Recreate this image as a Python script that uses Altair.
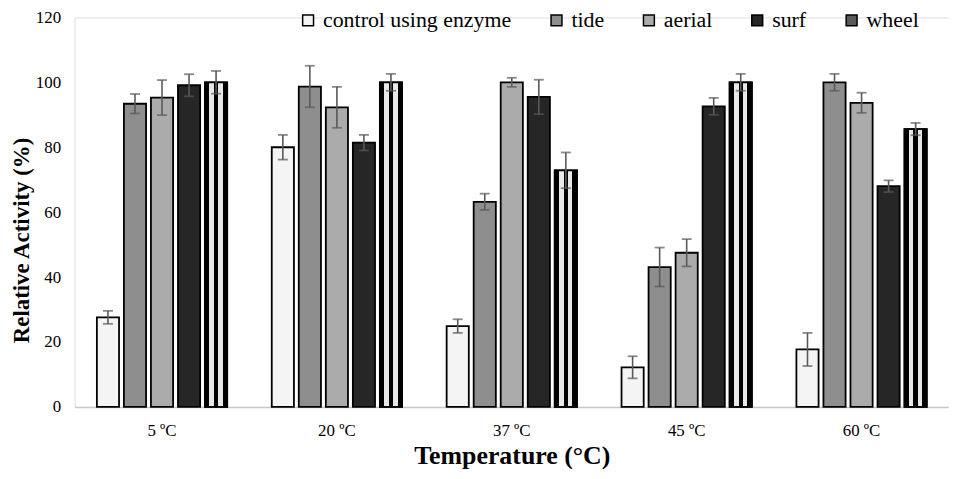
import altair as alt
import pandas as pd

temps = ["5 ºC", "20 ºC", "37 ºC", "45 ºC", "60 ºC"]
series = ["control using enzyme", "tide", "aerial", "surf", "wheel"]

control = [27.6, 80.0, 24.9, 12.2, 17.7]
tide = [93.4, 98.7, 63.2, 43.1, 100.0]
aerial = [95.3, 92.3, 100.0, 47.5, 93.7]
surf = [99.1, 81.4, 95.5, 92.6, 68.0]
wheel = [100.0, 100.0, 72.9, 100.0, 85.6]

control_err = [2.0, 3.8, 2.1, 3.4, 5.1]
tide_err = [3.0, 6.4, 2.5, 6.0, 2.6]
aerial_err = [5.4, 6.3, 1.4, 4.2, 3.1]
surf_err = [3.4, 2.4, 5.3, 2.6, 1.8]
wheel_err = [3.5, 2.6, 5.5, 2.6, 1.9]

fills = ["#f4f4f4", "#8e8e8e", "#ababab", "#262626", "#5a5a5a"]

rows = []
for name, vals, errs in zip(
    series,
    [control, tide, aerial, surf, wheel],
    [control_err, tide_err, aerial_err, surf_err, wheel_err],
):
    for t, v, e in zip(temps, vals, errs):
        rows.append({"temp": t, "series": name, "value": v, "lo": v - e, "hi": v + e})
df = pd.DataFrame(rows)

FONT = "Liberation Serif"

x = alt.X(
    "temp:N",
    sort=temps,
    scale=alt.Scale(domain=temps, paddingInner=0.255, paddingOuter=0.1275),
    axis=alt.Axis(
        title="Temperature (°C)",
        labelAngle=0,
        ticks=False,
        tickSize=0,
        labelPadding=16,
        labelFont=FONT,
        labelFontSize=17,
        labelColor="#000000",
        domainColor="#c8c8c8",
        domainWidth=1.5,
        titleFont=FONT,
        titleFontSize=26,
        titleFontWeight="bold",
        titleColor="#000000",
        titleBaseline="top",
        titleY=36,
    ),
)
xoff = alt.XOffset(
    "series:N",
    sort=series,
    scale=alt.Scale(domain=series, paddingInner=0.18, paddingOuter=0),
)
y = alt.Y(
    "value:Q",
    scale=alt.Scale(domain=[0, 120], nice=False),
    axis=alt.Axis(
        title="Relative Activity (%)",
        values=[0, 20, 40, 60, 80, 100, 120],
        grid=False,
        domain=False,
        ticks=False,
        labelPadding=14,
        labelFont=FONT,
        labelFontSize=17,
        labelColor="#000000",
        titleFont=FONT,
        titleFontSize=23,
        titleFontWeight="bold",
        titleColor="#000000",
        titleX=-41,
        titleY=224,
    ),
)

base = alt.Chart(df)

bars = base.mark_bar(stroke="black", strokeWidth=1.8).encode(
    x=x,
    xOffset=xoff,
    y=y,
    color=alt.Color(
        "series:N",
        sort=series,
        scale=alt.Scale(domain=series, range=fills),
        legend=alt.Legend(
            title=None,
            orient="none",
            legendX=224,
            legendY=-8,
            direction="horizontal",
            symbolType="square",
            symbolSize=120,
            symbolStrokeColor="black",
            symbolStrokeWidth=1.5,
            labelFont=FONT,
            labelFontSize=22,
            labelColor="#000000",
            labelOffset=4,
            labelLimit=400,
            columnPadding=34,
        ),
    ),
)

stripes = alt.Gradient(
    gradient="linear",
    x1=0, x2=1, y1=0, y2=0,
    stops=[
        alt.GradientStop(color="#000000", offset=0.0),
        alt.GradientStop(color="#000000", offset=0.2),
        alt.GradientStop(color="#e8e8e8", offset=0.2),
        alt.GradientStop(color="#e8e8e8", offset=0.4),
        alt.GradientStop(color="#000000", offset=0.4),
        alt.GradientStop(color="#000000", offset=0.6),
        alt.GradientStop(color="#e8e8e8", offset=0.6),
        alt.GradientStop(color="#e8e8e8", offset=0.8),
        alt.GradientStop(color="#000000", offset=0.8),
        alt.GradientStop(color="#000000", offset=1.0),
    ],
)

wheel_bars = base.transform_filter(alt.datum.series == "wheel").mark_bar(
    color=stripes, stroke="black", strokeWidth=1.8
).encode(x=x, xOffset=xoff, y=y)

err_rule = base.mark_rule(color="#595959", strokeWidth=1.6).encode(
    x=x, xOffset=xoff, y="lo:Q", y2="hi:Q"
)
cap_hi = base.mark_tick(color="#595959", size=10, thickness=1.8, orient="horizontal").encode(
    x=x, xOffset=xoff, y="hi:Q"
)
cap_lo = base.mark_tick(color="#595959", size=10, thickness=1.8, orient="horizontal").encode(
    x=x, xOffset=xoff, y="lo:Q"
)

chart = (
    alt.layer(bars, wheel_bars, err_rule, cap_hi, cap_lo)
    .properties(
        width=880,
        height=392,
        autosize=alt.AutoSizeParams(type="none"),
        padding={"left": 67, "top": 8, "right": 0, "bottom": 61},
    )
    .configure_view(stroke=None)
    .configure(background="white", font=FONT)
)

chart.save("out.html", embed_options={"renderer": "svg", "actions": False})
